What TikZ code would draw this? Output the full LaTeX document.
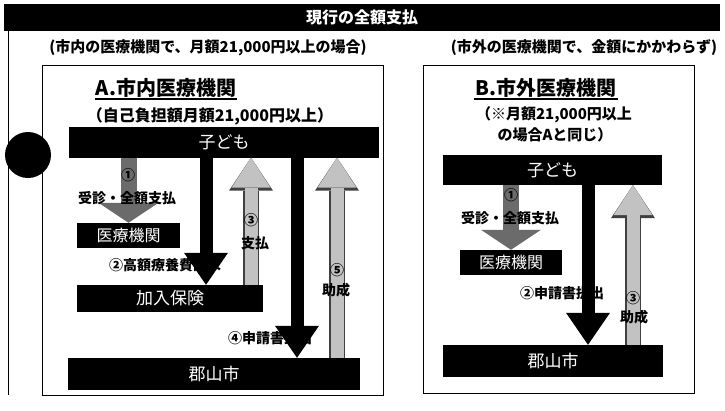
\documentclass[tikz,border=0pt]{standalone}
\usepackage{fontspec}
\setmainfont{Noto Sans CJK JP}
\usetikzlibrary{arrows.meta, positioning, calc}
\definecolor{payshade}{gray}{0.42}
\definecolor{aidshade}{gray}{0.76}

\begin{document}
\begin{tikzpicture}[x=1pt, y=-1pt,
  bar/.style={fill=black, text=white, inner sep=0pt, font=\fontsize{17}{19}\selectfont},
  lbl/.style={inner sep=0pt, font=\bfseries\fontsize{14}{16}\selectfont},
  subcap/.style={inner sep=0pt, font=\bfseries\fontsize{15}{17}\selectfont},
  headline/.style={inner sep=1pt, font=\bfseries\fontsize{20}{22}\selectfont},
  panel/.style={draw, line width=1pt},
  payflow/.style={draw=payshade, line width=16pt, -{Triangle[width=60pt 0, length=20pt 0, line width=0pt 0]}},
  claimflow/.style={draw=black, line width=13pt, -{Triangle[width=44pt 0, length=32pt 0, line width=0pt 0]}},
  aidflow/.style={preaction={draw=black!75, line width=16pt, -{Triangle[width=44pt 0, length=33pt 0, line width=0pt 0]}},
    draw=aidshade, line width=13pt, -{Triangle[width=39pt 0, length=30pt 0, line width=0pt 0]}}]
\useasboundingbox (0,0) rectangle (725,410);

% header and frame
\node[fill=black, text=white, minimum width=716pt, minimum height=27pt, inner sep=0pt, font=\bfseries\fontsize{16}{18}\selectfont] (head) at (362,17.5) {現行の全額支払};
\draw[line width=0.8pt] (8,31) -- (8,395);
\node[subcap] (condA) at (208,48) {(市内の医療機関で、月額21,000円以上の場合)};
\node[subcap] (condB) at (584,48) {(市外の医療機関で、金額にかかわらず)};
\draw[panel] (42,65) rectangle (383,395);
\draw[panel] (423,65) rectangle (694,393);
\fill (28,155) circle (23);

% A: within the city
\node[headline] (titleA) at (166,88) {A.市内医療機関};
\draw[line width=1.5pt] (titleA.south west) -- (titleA.south east);
\node[subcap, font=\bfseries\fontsize{16}{18}\selectfont] (noteA) at (210,116) {（自己負担額月額21,000円以上）};
\node[bar, minimum width=310pt, minimum height=31pt] (kodomoA) at (224,142) {子ども};
\node[bar, minimum width=103pt, minimum height=25pt, font=\fontsize{16}{18}\selectfont] (iryoA) at (128.5,235.5) {医療機関};
\node[bar, minimum width=186pt, minimum height=27pt] (hokenA) at (170,298.5) {加入保険};
\node[bar, minimum width=292pt, minimum height=32pt] (gunA) at (214,374) {郡山市};
\coordinate (a2) at (206,0);
\coordinate (a3) at (251,0);
\coordinate (a4) at (297,0);
\coordinate (a5) at (337,0);

\draw[payflow] (kodomoA.south -| iryoA.north) -- (iryoA.north);
\draw[claimflow] (kodomoA.south -| a2) -- (hokenA.north -| a2);
\draw[aidflow] (hokenA.north -| a3) -- (kodomoA.south -| a3);
\draw[claimflow] (kodomoA.south -| a4) -- (gunA.north -| a4);
\draw[aidflow] (gunA.north -| a5) -- (kodomoA.south -| a5);

\node[lbl] (n1A) at (128,175) {①};
\node[lbl] (t1A) at (127,198) {受診・全額支払};
\node[lbl] (t2A) at (165,265) {②高額療養費請求};
\node[lbl] (n3A) at (251,220) {③};
\node[lbl] (t3A) at (255,243) {支払};
\node[lbl] (t4A) at (270,338) {④申請書提出};
\node[lbl] (n5A) at (337,270) {⑤};
\node[lbl] (t5A) at (336,290) {助成};

% B: outside the city
\node[headline] (titleB) at (546,88) {B.市外医療機関};
\draw[line width=1.5pt] (titleB.south west) -- (titleB.south east);
\node[subcap] (noteB1) at (554,115) {（※月額21,000円以上};
\node[subcap] (noteB2) at (555,135) {の場合Aと同じ）};
\node[bar, minimum width=219pt, minimum height=30pt] (kodomoB) at (552.5,170) {子ども};
\node[bar, minimum width=102pt, minimum height=25pt, font=\fontsize{16}{18}\selectfont] (iryoB) at (511,262.5) {医療機関};
\node[bar, minimum width=220pt, minimum height=32pt] (gunB) at (553,361) {郡山市};
\coordinate (b2) at (588,0);
\coordinate (b3) at (633,0);

\draw[payflow] (kodomoB.south -| iryoB.north) -- (iryoB.north);
\draw[claimflow] (kodomoB.south -| b2) -- (gunB.north -| b2);
\draw[aidflow] (gunB.north -| b3) -- (kodomoB.south -| b3);

\node[lbl] (n1B) at (511,195) {①};
\node[lbl] (t1B) at (510,218) {受診・全額支払};
\node[lbl] (t2B) at (562,293) {②申請書提出};
\node[lbl] (n3B) at (633,298) {③};
\node[lbl] (t3B) at (634,317) {助成};
\end{tikzpicture}
\end{document}
